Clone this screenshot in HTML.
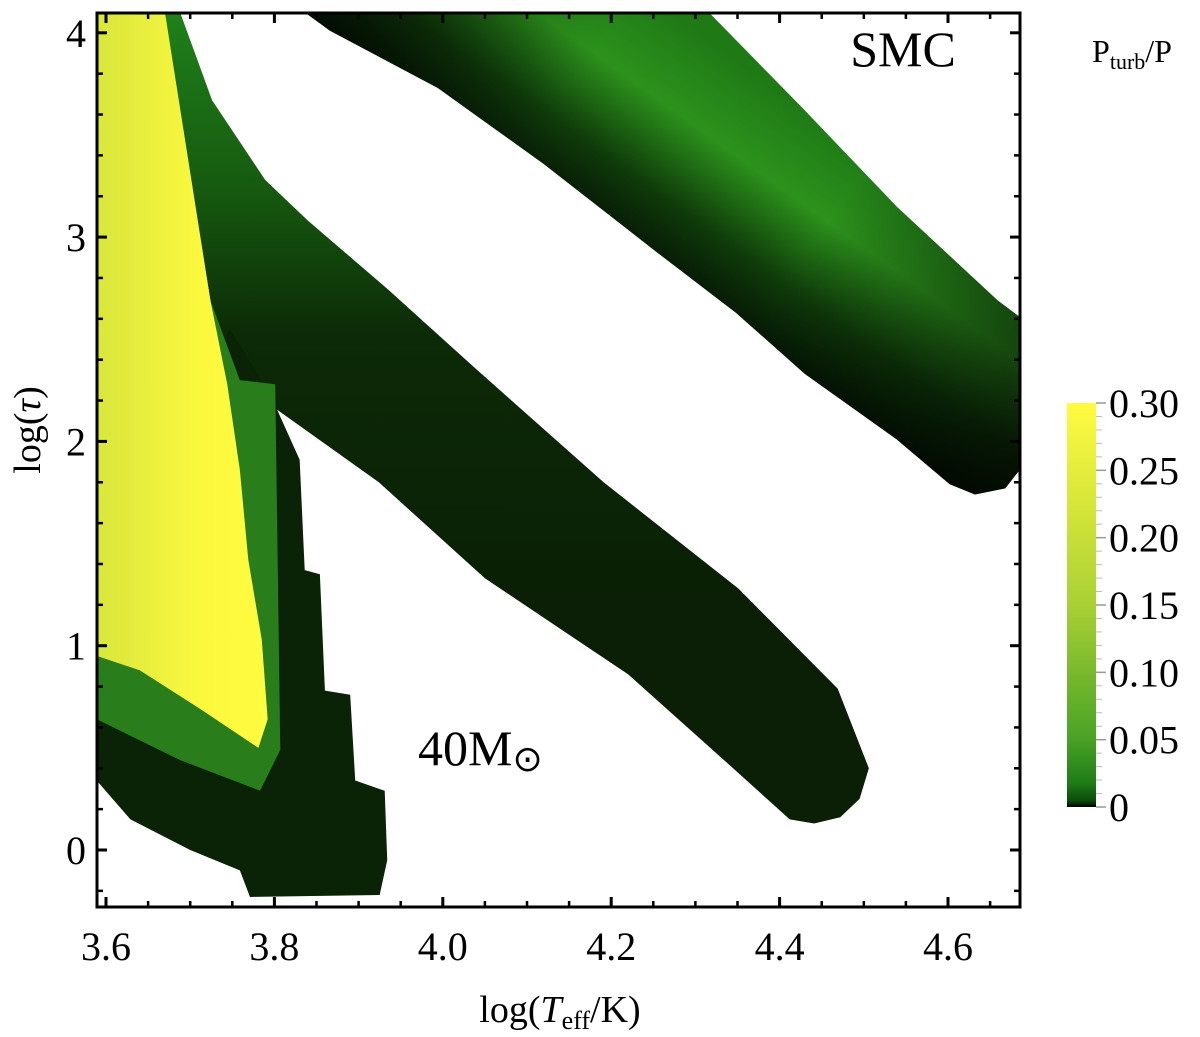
<!DOCTYPE html>
<html><head><meta charset="utf-8"><style>
html,body{margin:0;padding:0;background:#fff;}
svg{display:block;font-family:"Liberation Serif",serif;}
</style></head><body>
<svg id="chart" width="1200" height="1037" viewBox="0 0 1200 1037">
<defs>
<clipPath id="plotclip"><rect x="97" y="13" width="923" height="894"/></clipPath>
<linearGradient id="cbgrad" x1="0" y1="1" x2="0" y2="0">
<stop offset="0" stop-color="#000"/><stop offset="0.015" stop-color="#0a4a0a"/>
<stop offset="0.06" stop-color="#1f7d18"/><stop offset="0.17" stop-color="#4aa326"/>
<stop offset="0.5" stop-color="#a9d034"/><stop offset="0.75" stop-color="#d6e63a"/>
<stop offset="1" stop-color="#fffb40"/></linearGradient>
<linearGradient id="b1perp" gradientUnits="userSpaceOnUse" x1="690" y1="300" x2="820" y2="120">
<stop offset="0" stop-color="#041204"/><stop offset="0.3" stop-color="#0f3a0a"/>
<stop offset="0.65" stop-color="#2c921c"/><stop offset="1" stop-color="#1f7a16"/></linearGradient>
<linearGradient id="b1along" gradientUnits="userSpaceOnUse" x1="320" y1="20" x2="1000" y2="480">
<stop offset="0" stop-color="#000" stop-opacity="0.45"/><stop offset="0.3" stop-color="#000" stop-opacity="0"/>
<stop offset="0.65" stop-color="#000" stop-opacity="0"/><stop offset="1" stop-color="#000" stop-opacity="0.65"/></linearGradient>
<linearGradient id="b2grad" gradientUnits="userSpaceOnUse" x1="0" y1="13" x2="0" y2="600">
<stop offset="0" stop-color="#1f801a"/><stop offset="0.3" stop-color="#165a10"/>
<stop offset="0.55" stop-color="#0c2a07"/><stop offset="1" stop-color="#0a1f05"/></linearGradient>
<linearGradient id="yelGrad" x1="0" y1="0" x2="1" y2="0">
<stop offset="0" stop-color="#d8e63c"/><stop offset="0.6" stop-color="#fbf83e"/><stop offset="1" stop-color="#fffb40"/></linearGradient>
</defs>
<g id="plot" clip-path="url(#plotclip)"></g>
<rect x="97" y="13" width="923" height="894" fill="none" stroke="#000" stroke-width="3"/>
<g id="axes"></g>
<text x="903" y="66" font-size="50" text-anchor="middle">SMC</text>
<text x="418" y="765" font-size="50">40M<tspan font-size="36" font-family="DejaVu Sans" dy="6">⊙</tspan></text>
<text x="560" y="1022" font-size="38" text-anchor="middle">log(<tspan font-style="italic">T</tspan><tspan font-size="26" dy="7">eff</tspan><tspan dy="-7">/K)</tspan></text>
<text transform="translate(40,430) rotate(-90)" font-size="38" text-anchor="middle">log(<tspan font-style="italic">τ</tspan>)</text>
<text x="1132" y="62" font-size="32" text-anchor="middle">P<tspan font-size="22" dy="7">turb</tspan><tspan dy="-7">/P</tspan></text>
<rect x="1067" y="403" width="29" height="404" fill="url(#cbgrad)"/>
<g id="cb"></g>
</svg>
<script>
const xTicks=[3.6,3.8,4.0,4.2,4.4,4.6];
const xTickLabels=["3.6","3.8","4.0","4.2","4.4","4.6"];
const yTicks=[0,1,2,3,4];
const yTickLabels=["0","1","2","3","4"];
const cbTicks=[0,0.05,0.10,0.15,0.20,0.25,0.30];
const cbTickLabels=["0","0.05","0.10","0.15","0.20","0.25","0.30"];
// track 1 (upper band) outline: logT, logTau
const track1T=[3.836,4.316,4.430,4.539,4.659,4.685,4.685,4.668,4.632,4.602,4.539,4.430,4.348,4.256,4.119,3.994,3.866];
const track1Tau=[4.10,4.10,3.62,3.15,2.69,2.61,1.86,1.77,1.74,1.79,2.01,2.33,2.63,2.92,3.36,3.73,4.01];
// track 2 (middle band) outline
const track2T=[3.688,3.726,3.789,3.840,3.936,4.038,4.191,4.351,4.469,4.506,4.495,4.472,4.441,4.412,4.334,4.220,4.050,3.924,3.747,3.724,3.668];
const track2Tau=[4.10,3.67,3.28,3.08,2.74,2.36,1.80,1.28,0.79,0.40,0.25,0.16,0.13,0.15,0.44,0.86,1.33,1.80,2.32,2.69,4.10];
// dark lower region of left track
const darkT=[3.589,3.747,3.795,3.830,3.836,3.854,3.860,3.890,3.896,3.931,3.934,3.925,3.771,3.759,3.700,3.629,3.589];
const darkTau=[1.22,2.55,2.23,1.91,1.37,1.35,0.78,0.76,0.34,0.29,-0.05,-0.22,-0.23,-0.10,0,0.15,0.34];
// green transition region
const greenT=[3.589,3.724,3.759,3.801,3.807,3.783,3.688,3.589];
const greenTau=[1.13,2.69,2.30,2.28,0.49,0.29,0.44,0.64];
// yellow high-turbulence region
const yelT=[3.589,3.670,3.724,3.744,3.759,3.769,3.785,3.792,3.781,3.712,3.640,3.589];
const yelTau=[4.10,4.10,2.69,2.28,1.86,1.42,1.03,0.64,0.50,0.69,0.88,0.95];

const X=t=>106+(t-3.6)*842;
const Y=v=>850-v*204.3;
const CB=v=>807-v/0.30*404;
const NS="http://www.w3.org/2000/svg";
function mk(tag,attrs,parent){const e=document.createElementNS(NS,tag);for(const k in attrs)e.setAttribute(k,attrs[k]);parent.appendChild(e);return e;}
const plot=document.getElementById('plot');
function poly(T,V,fill,name){
  const pts=T.map((t,i)=>X(t)+','+Y(V[i])).join(' ');
  const p=mk('polygon',{points:pts,fill:fill,'stroke-linejoin':'round'},plot);
  
  
}
poly(track1T,track1Tau,'url(#b1perp)','track-upper');
poly(track1T,track1Tau,'url(#b1along)','track-upper-shade');
poly(track2T,track2Tau,'url(#b2grad)','track-middle');
poly(darkT,darkTau,'#0a2205','track-left-dark');
poly(greenT,greenTau,'#2a7d1b','track-left-green');
poly(yelT,yelTau,'url(#yelGrad)','track-left-yellow');

const axes=document.getElementById('axes');
xTicks.forEach((t,i)=>{
  const l=mk('line',{x1:X(t),x2:X(t),y1:907,y2:897,stroke:'#000','stroke-width':3},axes);
  
  
  const l2=mk('line',{x1:X(t),x2:X(t),y1:13,y2:23,stroke:'#000','stroke-width':3},axes);
  
  
  const tx=mk('text',{x:X(t),y:960,'font-size':40,'text-anchor':'middle'},axes);
  tx.textContent=xTickLabels[i];
  
  
});
for(let t=3.6;t<4.69;t+=0.05){
  const l=mk('line',{x1:X(t),x2:X(t),y1:907,y2:901,stroke:'#000','stroke-width':2.5},axes);
  
  
  const l2=mk('line',{x1:X(t),x2:X(t),y1:13,y2:19,stroke:'#000','stroke-width':2.5},axes);
  
  
}
yTicks.forEach((v,i)=>{
  const l=mk('line',{x1:97,x2:107,y1:Y(v),y2:Y(v),stroke:'#000','stroke-width':3},axes);
  
  
  const l2=mk('line',{x1:1010,x2:1020,y1:Y(v),y2:Y(v),stroke:'#000','stroke-width':3},axes);
  
  
  const tx=mk('text',{x:76,y:Y(v)+14,'font-size':40,'text-anchor':'middle'},axes);
  tx.textContent=yTickLabels[i];
  
  
});
for(let v=-0.2;v<4.1;v+=0.2){
  const l=mk('line',{x1:97,x2:103,y1:Y(v),y2:Y(v),stroke:'#000','stroke-width':2.5},axes);
  
  
  const l2=mk('line',{x1:1014,x2:1020,y1:Y(v),y2:Y(v),stroke:'#000','stroke-width':2.5},axes);
  
  
}
const cb=document.getElementById('cb');
for(let v=0;v<=0.301;v+=0.01){
  const l=mk('line',{x1:1096,x2:1102,y1:CB(v),y2:CB(v),stroke:'#bbb','stroke-width':1},cb);
  
  
}
cbTicks.forEach((v,i)=>{
  const l=mk('line',{x1:1096,x2:1106,y1:CB(v),y2:CB(v),stroke:'#999','stroke-width':1.5},cb);
  
  
  const tx=mk('text',{x:1109,y:CB(v)+14,'font-size':40},cb);
  tx.textContent=cbTickLabels[i];
  
  
});
</script>
</body></html>
